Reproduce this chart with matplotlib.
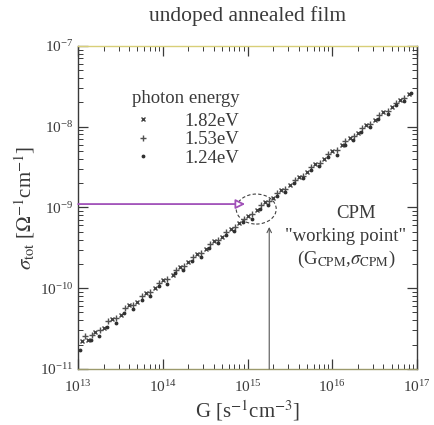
import numpy as np
import matplotlib
matplotlib.use('Agg')
import matplotlib.pyplot as plt
from matplotlib.patches import Ellipse
from matplotlib.transforms import ScaledTranslation

plt.rcParams['font.family'] = 'Liberation Serif'
plt.rcParams['mathtext.fontset'] = 'stix'

# generation rate G [s^-1 cm^-3] and conductivity [Ohm^-1 cm^-1] per photon energy
G_182 = [1.1e13, 1.3e13, 1.6e13, 2.0e13, 2.5e13, 3.2e13, 4.0e13, 5.0e13, 6.3e13, 8.0e13,
         1.0e14, 1.3e14, 1.6e14, 2.0e14, 2.5e14, 3.2e14, 4.0e14, 5.0e14, 6.3e14, 8.0e14,
         1.0e15, 1.3e15, 1.6e15, 2.0e15, 2.5e15, 3.2e15, 4.0e15, 5.0e15, 6.3e15, 8.0e15,
         1.0e16, 1.3e16, 1.6e16, 2.0e16, 2.5e16, 3.2e16, 4.0e16, 5.0e16, 6.3e16, 8.0e16]
sig_182 = [2.2e-11, 2.3e-11, 2.9e-11, 3.2e-11, 4.2e-11, 4.7e-11, 6.1e-11, 6.8e-11, 8.8e-11, 1.0e-10,
           1.27e-10, 1.46e-10, 1.84e-10, 2.08e-10, 2.62e-10, 3.02e-10, 3.80e-10, 4.35e-10, 5.45e-10, 6.35e-10,
           7.9e-10, 9.3e-10, 1.15e-9, 1.31e-9, 1.65e-9, 1.91e-9, 2.40e-9, 2.75e-9, 3.42e-9, 4.0e-9,
           4.95e-9, 5.9e-9, 7.2e-9, 8.3e-9, 1.04e-8, 1.21e-8, 1.50e-8, 1.74e-8, 2.16e-8, 2.55e-8]

G_153 = [1.2e13, 1.45e13, 1.8e13, 2.25e13, 2.8e13, 3.6e13, 4.5e13, 5.6e13, 7.1e13, 9.0e13,
         1.12e14, 1.42e14, 1.8e14, 2.25e14, 2.8e14, 3.6e14, 4.5e14, 5.6e14, 7.1e14, 9.0e14,
         1.12e15, 1.42e15, 1.8e15, 2.25e15, 2.8e15, 3.6e15, 4.5e15, 5.6e15, 7.1e15, 9.0e15,
         1.12e16, 1.42e16, 1.8e16, 2.25e16, 2.8e16, 3.6e16, 4.5e16, 5.6e16, 7.1e16]
sig_153 = [2.55e-11, 2.6e-11, 3.05e-11, 3.9e-11, 4.3e-11, 5.6e-11, 6.2e-11, 8.0e-11, 9.0e-11, 1.17e-10,
           1.31e-10, 1.70e-10, 1.90e-10, 2.42e-10, 2.72e-10, 3.50e-10, 3.95e-10, 4.98e-10, 5.70e-10, 7.25e-10,
           8.2e-10, 1.07e-9, 1.20e-9, 1.52e-9, 1.70e-9, 2.19e-9, 2.48e-9, 3.15e-9, 3.58e-9, 4.56e-9,
           5.2e-9, 6.7e-9, 7.6e-9, 9.5e-9, 1.08e-8, 1.38e-8, 1.57e-8, 1.98e-8, 2.25e-8]

G_124 = [1.05e13, 1.4e13, 1.75e13, 2.2e13, 2.8e13, 3.5e13, 4.5e13, 5.6e13, 7.0e13, 8.9e13,
         1.12e14, 1.4e14, 1.75e14, 2.2e14, 2.8e14, 3.5e14, 4.5e14, 5.6e14, 7.0e14, 8.9e14,
         1.12e15, 1.4e15, 1.75e15, 2.2e15, 2.8e15, 3.5e15, 4.5e15, 5.6e15, 7.0e15, 8.9e15,
         1.12e16, 1.4e16, 1.75e16, 2.2e16, 2.8e16, 3.5e16, 4.5e16, 5.6e16, 7.0e16, 8.5e16]
sig_124 = [1.7e-11, 2.3e-11, 2.55e-11, 3.35e-11, 3.75e-11, 4.9e-11, 5.5e-11, 7.2e-11, 8.0e-11, 1.05e-10,
           1.12e-10, 1.52e-10, 1.70e-10, 2.18e-10, 2.45e-10, 3.15e-10, 3.60e-10, 4.60e-10, 5.15e-10, 6.65e-10,
           7.1e-10, 9.5e-10, 1.08e-9, 1.37e-9, 1.56e-9, 1.98e-9, 2.30e-9, 2.90e-9, 3.25e-9, 4.2e-9,
           4.5e-9, 6.0e-9, 6.8e-9, 8.7e-9, 9.8e-9, 1.26e-8, 1.45e-8, 1.83e-8, 2.05e-8, 2.6e-8]

# CPM working point
G_cpm = 1.8e15
sig_cpm = 1.1e-9

fig = plt.figure(figsize=(4.34, 4.25), dpi=100)
ax = fig.add_axes([0.180, 0.132, 0.781, 0.760])

ink = '#3a3a3a'
ax.plot(G_182, sig_182, ls='none', marker='x', ms=3.5, mew=1.0, color='#404040', label='1.82eV')
ax.plot(G_153, sig_153, ls='none', marker='+', ms=4.5, mew=1.0, color='#505050', label='1.53eV')
ax.plot(G_124, sig_124, ls='none', marker='.', ms=3.5, color='#303030', label='1.24eV')

ax.set_xscale('log')
ax.set_yscale('log')
ax.set_xlim(1e13, 1e17)
ax.set_ylim(1e-11, 1e-7)

# horizontal arrow at sigma_CPM from the axis to the working point
ax.annotate('', xy=(G_cpm * 0.52, sig_cpm), xytext=(1e13, sig_cpm),
            arrowprops=dict(arrowstyle='-|>', color='#a050b8', lw=1.3,
                            fc='white', mutation_scale=14, shrinkA=0, shrinkB=0))
# vertical marker down to G_CPM
ax.annotate('', xy=(G_cpm, sig_cpm * 0.52), xytext=(G_cpm, 1e-11),
            arrowprops=dict(arrowstyle='->', color='#555555', lw=0.8,
                            mutation_scale=8, shrinkA=0, shrinkB=0))

# dashed ring round the working point
ring = Ellipse((-0.13, -0.05), 0.40, 0.30, fill=False, ls=(0, (3, 2)), lw=0.8,
               ec='#404040',
               transform=fig.dpi_scale_trans + ScaledTranslation(G_cpm, sig_cpm, ax.transData))
ax.add_patch(ring)

ax.text(0.82, 0.48, 'CPM', transform=ax.transAxes, ha='center', va='center',
        fontsize=13.5, color=ink)
ax.text(0.79, 0.41, '"working point"', transform=ax.transAxes, ha='center', va='center',
        fontsize=13.5, color=ink)
ax.text(0.79, 0.34, r'(G$_{\rm CPM}$,$\sigma_{\rm CPM}$)', transform=ax.transAxes,
        ha='center', va='center', fontsize=13.5, color=ink)

leg = ax.legend(title='photon energy', loc='upper left', bbox_to_anchor=(0.13, 0.893),
                frameon=False, fontsize=13.5, title_fontsize=13.5, handlelength=1.2,
                handletextpad=1.6, labelspacing=0.08, borderpad=0)
leg._legend_box.sep = 4
for t in leg.get_texts():
    t.set_color(ink)
leg.get_title().set_color(ink)

ax.tick_params(which='both', direction='in', top=True, right=True, colors=ink,
               labelsize=11)
ax.tick_params(which='major', length=7, width=0.9)
ax.tick_params(which='minor', length=3.5, width=0.7)
ax.tick_params(axis='x', pad=7)
for s in ax.spines.values():
    s.set_color(ink)
    s.set_linewidth(1.0)
ax.spines['top'].set_color('#d8cf78')
ax.spines['bottom'].set_color('#9c9a6c')

ax.set_xlabel(r'G [s$^{-1}$cm$^{-3}$]', fontsize=15, color=ink, labelpad=3)
ax.set_ylabel(r'$\sigma_{\rm tot}$ [$\Omega^{-1}$cm$^{-1}$]', fontsize=15, color=ink, labelpad=2)
ax.set_title('undoped annealed film', fontsize=15.5, color=ink, pad=18)

fig.savefig('out.png', dpi=100)
